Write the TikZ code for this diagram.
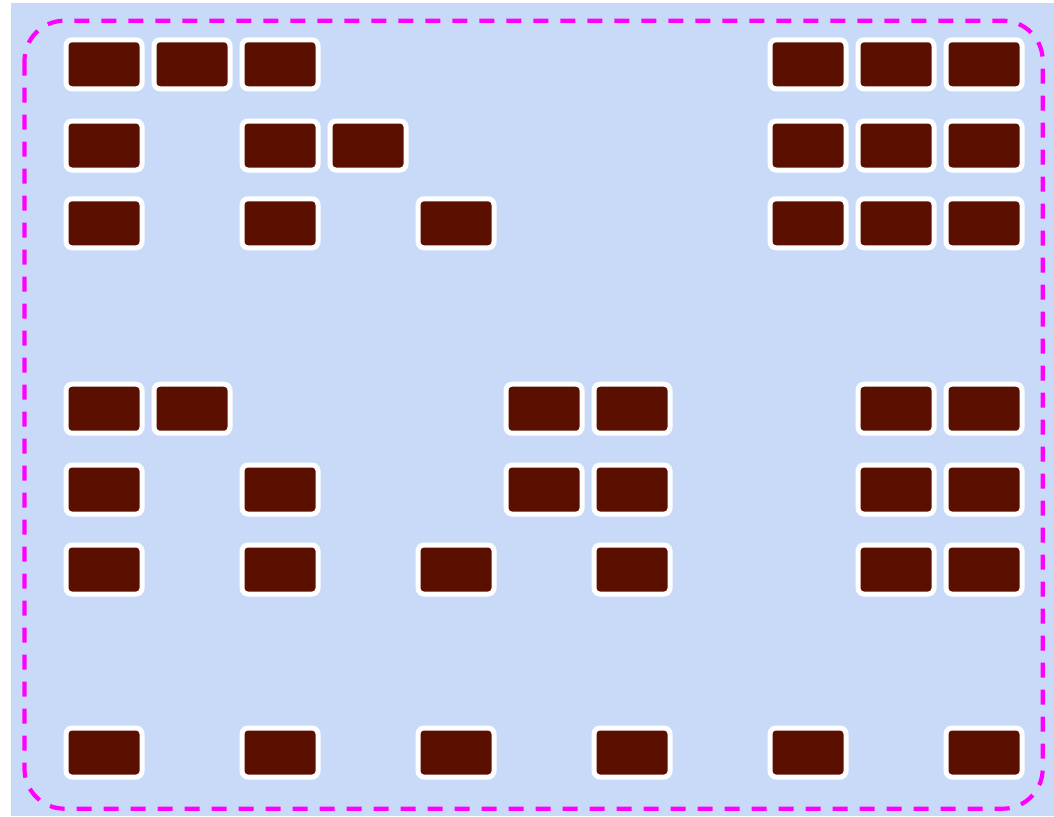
\documentclass[tikz,border=0pt]{standalone}
\usepackage{xcolor}
\usepackage{tikz}
\usetikzlibrary{positioning}
\definecolor{bgblue}{HTML}{C9DAF8}
\definecolor{brick}{HTML}{5A0F00}
\definecolor{framepink}{HTML}{FF00FF}

\begin{document}
\begin{tikzpicture}[
    x=1pt, y=-1pt,
    cell/.style={draw=white, line width=5pt, fill=brick, rounded corners=6pt, minimum width=76pt, minimum height=49pt, inner sep=0pt},
    frame/.style={draw=framepink, line width=4.2pt, dash pattern=on 15pt off 12pt, rounded corners=40pt}]
    \useasboundingbox (0,0) rectangle (1054,816);
    % backdrop and dashed frame
    \fill[bgblue] (11,3) rectangle (1054,816);
    \draw[frame] (24.5,20.7) rectangle (1042.7,808.7);
    % upper block
    \foreach \c in {0,1,2,8,9,10} \node[cell] (r1c\c) at (104+88*\c,64.3) {};
    \foreach \c in {0,2,3,8,9,10} \node[cell] (r2c\c) at (104+88*\c,145.5) {};
    \foreach \c in {0,2,4,8,9,10} \node[cell] (r3c\c) at (104+88*\c,223.3) {};
    % lower block
    \foreach \c in {0,1,5,6,9,10} \node[cell] (r4c\c) at (104+88*\c,408.7) {};
    \foreach \c in {0,2,5,6,9,10} \node[cell] (r5c\c) at (104+88*\c,489.5) {};
    \foreach \c in {0,2,4,6,9,10} \node[cell] (r6c\c) at (104+88*\c,569.5) {};
    % bottom row
    \foreach \c in {0,2,4,6,8,10} \node[cell] (r7c\c) at (104+88*\c,752.5) {};
\end{tikzpicture}
\end{document}
